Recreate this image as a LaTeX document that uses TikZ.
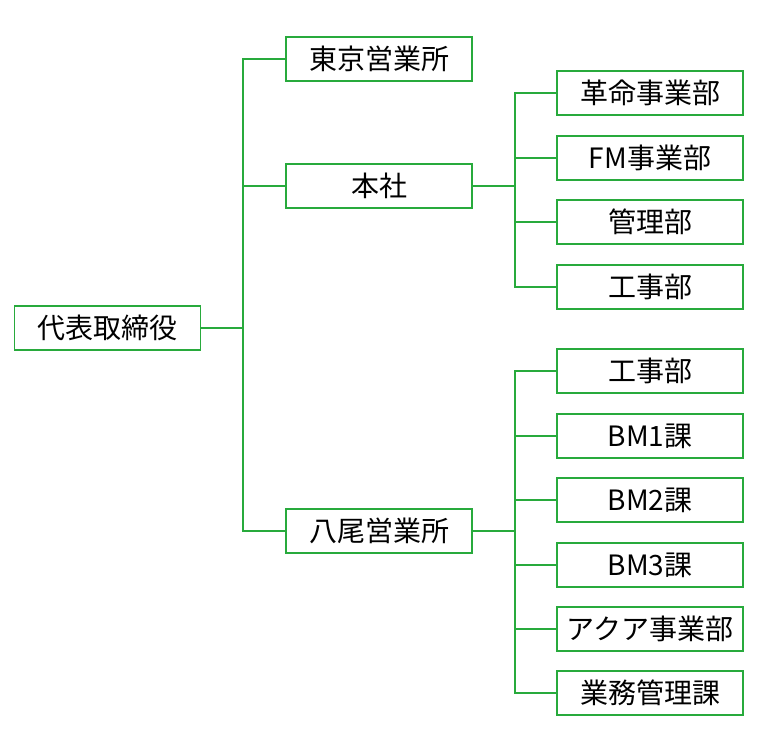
\documentclass[tikz,border=0pt]{standalone}
\usepackage{fontspec}
\setmainfont{Noto Sans CJK JP}
\definecolor{orggreen}{RGB}{40,170,60}

\begin{document}
\begin{tikzpicture}[x=0.75pt,y=-0.75pt,
		unit/.style={draw=orggreen,line width=1.1pt,minimum width=139.5pt,minimum height=33pt,inner sep=0pt,font=\fontsize{21}{23}\selectfont},
		link/.style={draw=orggreen,line width=1.1pt}]
				\useasboundingbox (0,0) rectangle (756,756);
				\node[unit] (ceo) at (107.5, 328) {代表取締役};
				\node[unit] (tokyo) at (379, 59) {東京営業所};
				\node[unit] (honsha) at (379, 186) {本社};
				\node[unit] (yao) at (379, 531) {八尾営業所};
				% 本社
				\node[unit] (kakumei) at (650, 93) {革命事業部};
				\node[unit] (fm) at (650, 158) {FM事業部};
				\node[unit] (kanri) at (650, 222) {管理部};
				\node[unit] (koji) at (650, 287) {工事部};
				% 八尾営業所
				\node[unit] (yaokoji) at (650, 371) {工事部};
				\node[unit] (bm1) at (650, 436) {BM1課};
				\node[unit] (bm2) at (650, 500) {BM2課};
				\node[unit] (bm3) at (650, 565) {BM3課};
				\node[unit] (aqua) at (650, 629) {アクア事業部};
				\node[unit] (gyomu) at (650, 693) {業務管理課};
				\coordinate (bus1) at (243, 328);
				\coordinate (bus2) at (515, 186);
				\coordinate (bus3) at (515, 531);
				\draw[link] (ceo) -- (bus1);
				\draw[link] (bus1) |- (tokyo.west);
				\draw[link] (bus1) |- (honsha.west);
				\draw[link] (bus1) |- (yao.west);
				\draw[link] (honsha) -- (bus2);
				\draw[link] (bus2) |- (kakumei.west);
				\draw[link] (bus2) |- (fm.west);
				\draw[link] (bus2) |- (kanri.west);
				\draw[link] (bus2) |- (koji.west);
				\draw[link] (yao) -- (bus3);
				\draw[link] (bus3) |- (yaokoji.west);
				\draw[link] (bus3) |- (bm1.west);
				\draw[link] (bus3) |- (bm2.west);
				\draw[link] (bus3) |- (bm3.west);
				\draw[link] (bus3) |- (aqua.west);
				\draw[link] (bus3) |- (gyomu.west);
			\end{tikzpicture}
\end{document}
